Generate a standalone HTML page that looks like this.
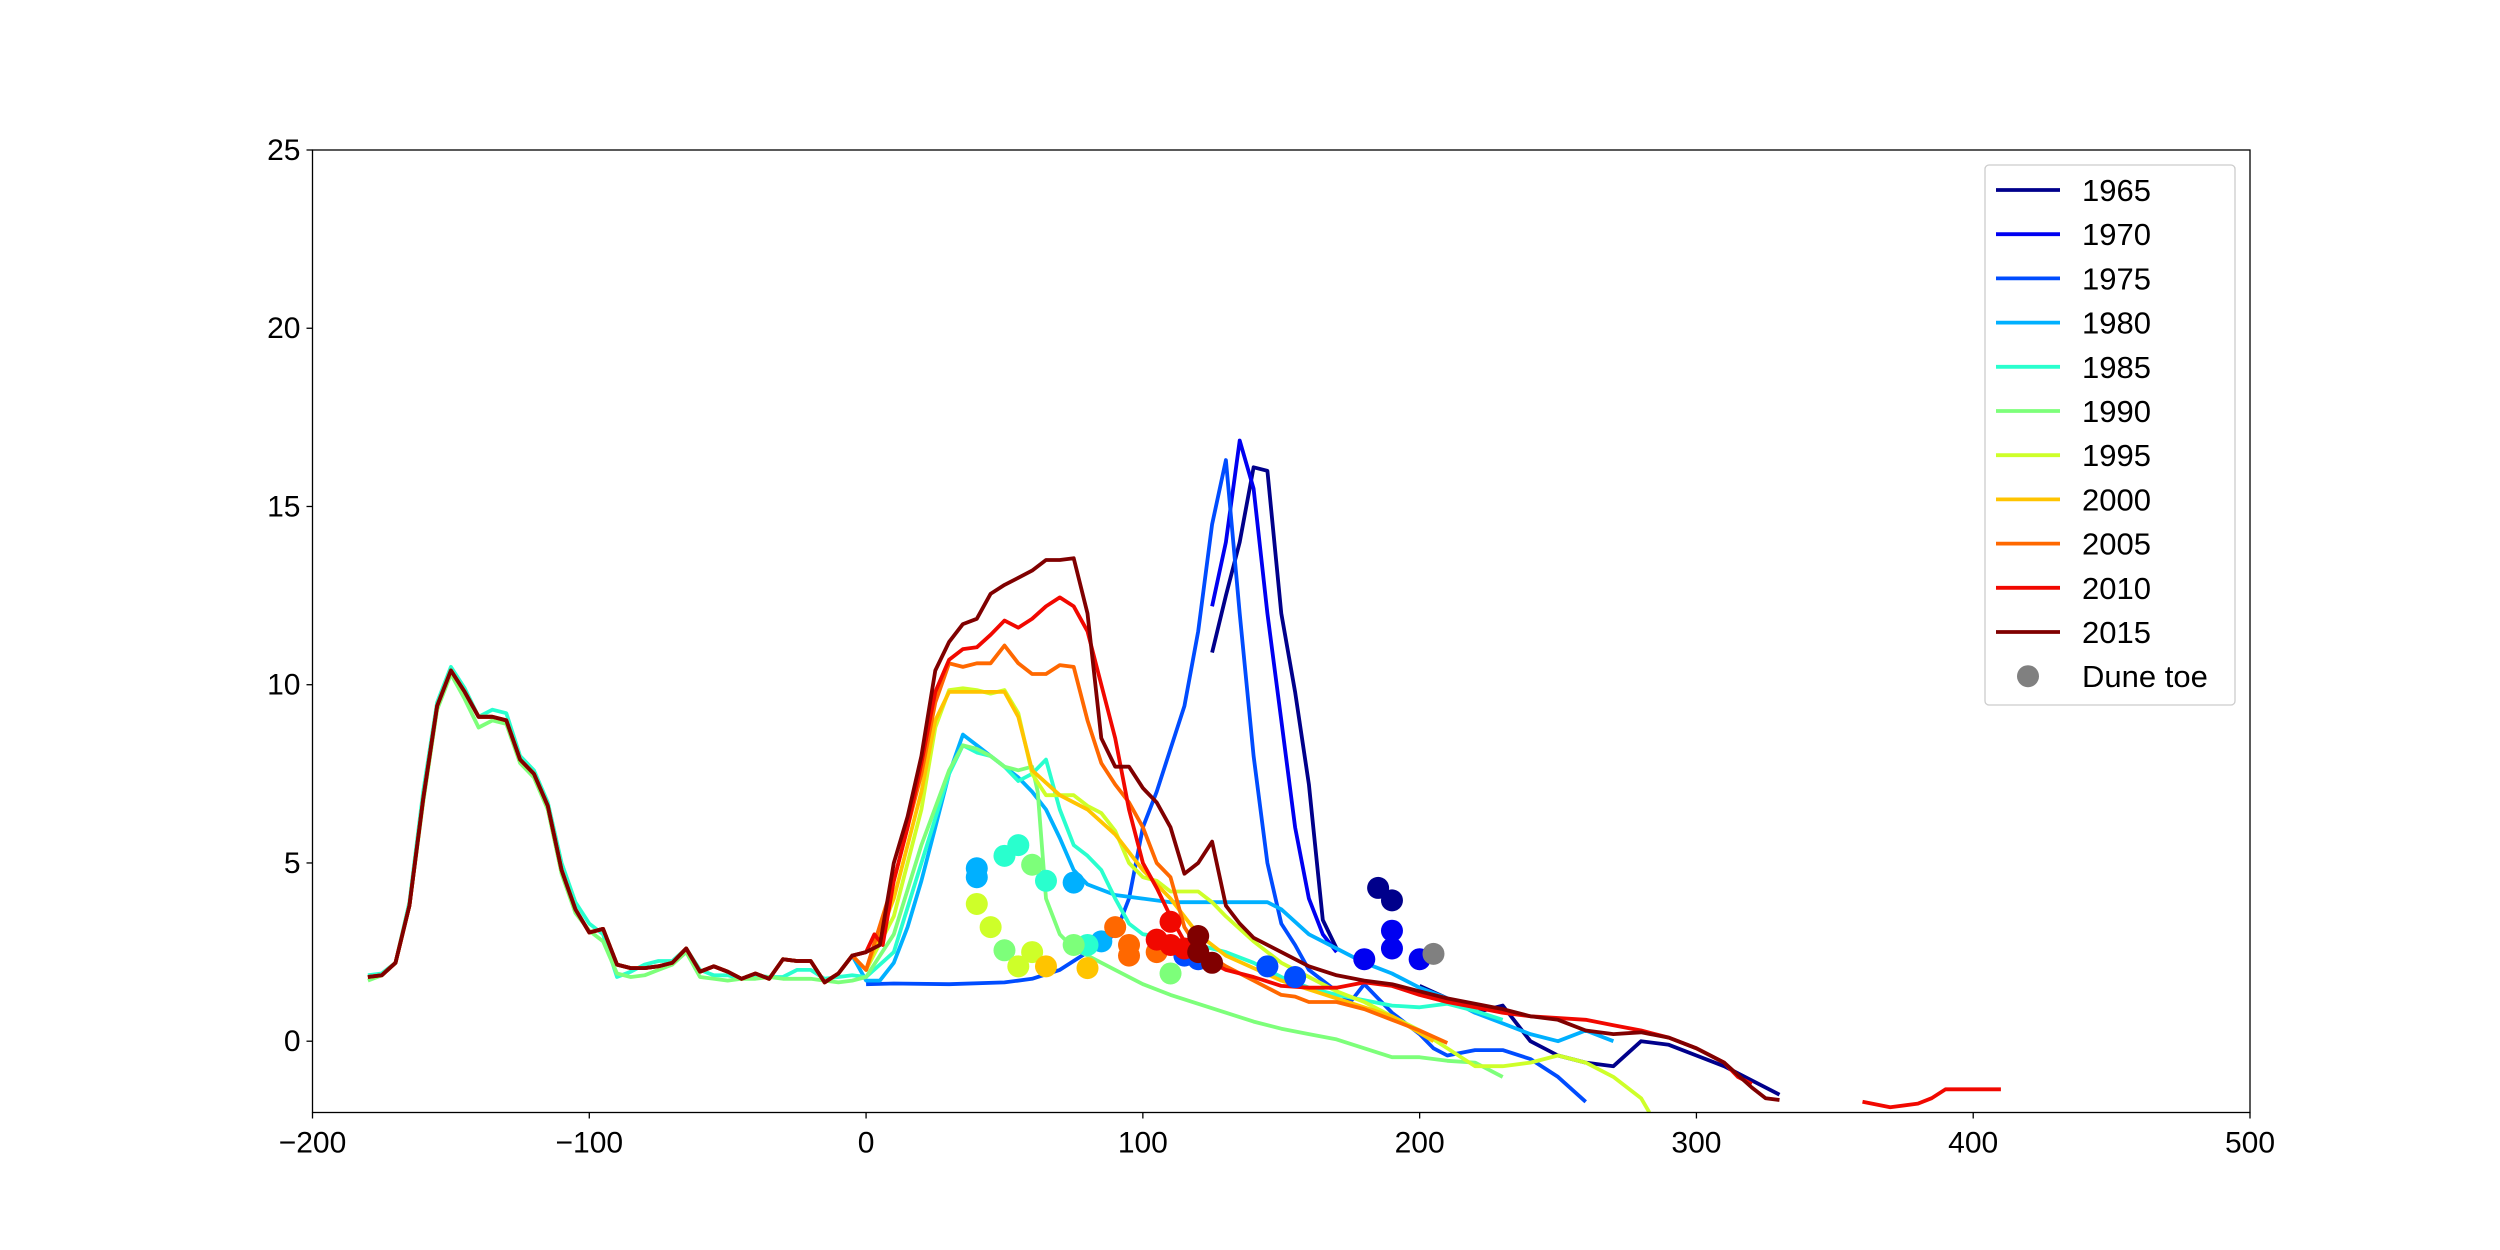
<!DOCTYPE html>
<html><head><meta charset="utf-8"><style>
html,body{margin:0;padding:0;background:#fff;}
svg{display:block;font-family:"Liberation Sans","DejaVu Sans",sans-serif;}
</style></head><body>
<svg id="chart" width="2500" height="1250" viewBox="0 0 2500 1250" xmlns="http://www.w3.org/2000/svg">
<rect width="2500" height="1250" fill="#fff"/>
<g id="plot"></g>
<g id="axes"></g>
<g id="legend"></g>
</svg>
<script>
const years = ["1965","1970","1975","1980","1985","1990","1995","2000","2005","2010","2015"];
const colors = ["#00008b","#0000f1","#004cff","#00b0ff","#29ffce","#7dff7a","#ceff29","#ffc400","#ff6800","#f10800","#800000"];
const xTicks = [-200,-100,0,100,200,300,400,500];
const yTicks = [0,5,10,15,20,25];
const baseX = [-180,-175,-170,-165,-160,-155,-150,-145,-140,-135,-130,-125,-120,-115,-110,-105,-100,-95,-90,-85,-80,-75,-70,-65,-60,-55,-50,-45,-40,-35,-30,-25,-20,-15,-10,-5];
const baseY = [1.8,1.85,2.2,3.8,6.8,9.4,10.4,9.8,9.1,9.1,9.0,7.9,7.5,6.6,4.8,3.7,3.05,3.15,2.15,2.05,2.05,2.1,2.2,2.6,1.95,2.1,1.95,1.75,1.9,1.75,2.3,2.25,2.25,1.65,1.9,2.4];
const baseY1985 = [1.85,1.9,2.2,3.9,7.0,9.5,10.5,9.9,9.1,9.3,9.2,8.0,7.6,6.7,5.0,3.9,3.3,3.0,1.8,1.95,2.15,2.25,2.25,2.6,2.0,1.85,1.85,1.75,1.85,1.8,1.8,2.0,2.0,1.75,1.8,1.85];
const baseY1990 = [1.7,1.85,2.2,3.8,6.7,9.3,10.3,9.6,8.8,9.0,8.9,7.8,7.4,6.5,4.7,3.6,3.1,2.8,1.9,1.8,1.85,2.0,2.15,2.5,1.8,1.75,1.7,1.75,1.75,1.8,1.75,1.75,1.75,1.7,1.65,1.7];
const s1965 = [[[125,10.9],[130,12.5],[135,14.0],[140,16.1],[145,16.0],[150,12.0],[155,9.8],[160,7.2],[165,3.4],[170,2.6]],[[200,1.55],[210,1.2],[220,0.8],[230,1.0],[240,0.0],[250,-0.4],[260,-0.6],[270,-0.7],[280,0.0],[290,-0.1],[300,-0.4],[310,-0.7],[320,-1.1],[330,-1.5]]];
const s1970 = [[[125,12.2],[130,14.0],[135,16.85],[140,15.5],[145,12.0],[150,9.0],[155,6.0],[160,4.0],[165,3.0],[170,2.5]]];
const s1975 = [[[0,1.6],[10,1.62],[30,1.6],[50,1.65],[60,1.75],[70,2.0],[80,2.5],[90,3.0],[95,4.0],[100,6.0],[105,7.0],[110,8.2],[115,9.4],[120,11.5],[125,14.5],[130,16.3],[135,12.0],[140,8.0],[145,5.0],[150,3.3],[155,2.7],[160,2.0],[170,1.4],[175,1.1],[180,1.6],[185,1.2],[190,0.8],[200,0.2],[205,-0.2],[210,-0.4],[220,-0.25],[230,-0.25],[240,-0.5],[250,-1.0],[260,-1.7]]];
const s1980 = [[[0,1.7],[5,1.7],[10,2.2],[15,3.2],[20,4.5],[25,6.0],[30,7.5],[35,8.6],[40,8.3],[45,8.0],[50,7.7],[55,7.4],[60,7.0],[65,6.5],[70,5.7],[75,4.8],[80,4.4],[90,4.1],[100,4.0],[110,3.9],[120,3.9],[130,3.9],[145,3.9],[150,3.7],[160,3.0],[170,2.6],[180,2.2],[190,1.9],[200,1.5],[210,1.2],[220,0.8],[230,0.5],[240,0.2],[250,0.0],[260,0.3],[270,0.0]]];
const s1985 = [[[0,1.8],[10,2.5],[20,5.0],[30,7.5],[35,8.3],[40,8.1],[45,8.0],[50,7.7],[55,7.3],[60,7.5],[65,7.9],[70,6.5],[75,5.5],[80,5.2],[85,4.8],[90,4.0],[95,3.3],[100,3.0],[110,2.9],[120,2.7],[130,2.5],[140,2.2],[150,1.8],[160,1.5],[170,1.3],[180,1.15],[190,1.0],[200,0.95],[210,1.05],[220,0.85],[230,0.6]]];
const s1990 = [[[0,1.8],[10,3.0],[20,5.5],[30,7.6],[35,8.3],[40,8.2],[45,8.0],[50,7.7],[55,7.6],[60,7.7],[62,7.0],[65,4.0],[70,3.0],[75,2.6],[80,2.4],[90,2.0],[100,1.6],[110,1.3],[120,1.05],[130,0.8],[140,0.55],[150,0.35],[160,0.2],[170,0.05],[180,-0.2],[190,-0.45],[200,-0.45],[210,-0.55],[220,-0.6],[230,-1.0]]];
const s1995 = [[[0,2.0],[10,3.5],[20,6.5],[25,8.8],[30,9.85],[35,9.9],[40,9.85],[45,9.75],[50,9.85],[55,9.2],[60,7.5],[65,6.9],[70,6.9],[75,6.9],[80,6.6],[85,6.4],[90,5.9],[95,5.0],[100,4.6],[105,4.5],[110,4.2],[120,4.2],[125,3.9],[130,3.5],[140,2.8],[150,2.2],[160,1.8],[170,1.4],[180,1.1],[190,0.7],[200,0.3],[210,-0.2],[220,-0.7],[230,-0.7],[240,-0.6],[250,-0.4],[260,-0.6],[270,-1.0],[280,-1.6],[283,-2.0]]];
const s2000 = [[[0,2.0],[10,4.0],[20,7.0],[25,9.0],[30,9.8],[40,9.8],[50,9.8],[55,9.1],[60,7.6],[70,6.9],[80,6.5],[90,5.8],[100,4.8],[110,4.0],[120,3.0],[130,2.4],[150,1.7],[170,1.2],[190,0.7],[205,0.0]]];
const s2005 = [[[0,2.0],[10,4.5],[20,7.5],[25,9.5],[30,10.6],[35,10.5],[40,10.6],[45,10.6],[50,11.1],[55,10.6],[60,10.3],[65,10.3],[70,10.55],[75,10.5],[80,9.0],[85,7.8],[90,7.2],[95,6.7],[100,6.0],[105,5.0],[110,4.6],[115,3.2],[120,2.6],[130,2.1],[140,1.7],[150,1.3],[155,1.25],[160,1.1],[170,1.1],[180,0.9],[190,0.6],[200,0.3],[210,-0.05]]];
const s2010 = [[[0,2.5],[3,3.0],[6,2.7],[10,4.5],[15,6.0],[20,7.8],[25,9.8],[30,10.7],[35,11.0],[40,11.05],[45,11.4],[50,11.8],[55,11.6],[60,11.85],[65,12.2],[70,12.45],[75,12.2],[80,11.5],[85,10.0],[90,8.5],[95,6.5],[100,5.0],[105,4.3],[110,3.5],[115,2.8],[120,2.4],[130,2.0],[140,1.8],[150,1.55],[160,1.5],[170,1.5],[180,1.65],[190,1.55],[200,1.3],[210,1.1],[220,0.95],[230,0.8],[240,0.7],[250,0.65],[260,0.6],[270,0.45],[280,0.3],[290,0.1],[300,-0.2],[310,-0.6],[315,-1.0],[320,-1.2]],[[360,-1.7],[370,-1.85],[380,-1.75],[385,-1.6],[390,-1.35],[400,-1.35],[410,-1.35]]];
const s2015 = [[[0,2.5],[5,2.7],[10,5.0],[15,6.3],[20,8.0],[25,10.4],[30,11.2],[35,11.7],[40,11.85],[45,12.55],[50,12.8],[55,13.0],[60,13.2],[65,13.5],[70,13.5],[75,13.55],[80,12.0],[85,8.5],[90,7.7],[95,7.7],[100,7.1],[105,6.7],[110,6.0],[115,4.7],[120,5.0],[125,5.6],[130,3.8],[135,3.3],[140,2.9],[150,2.5],[160,2.1],[170,1.85],[180,1.7],[190,1.6],[200,1.4],[210,1.2],[220,1.05],[230,0.9],[240,0.7],[250,0.6],[260,0.3],[270,0.2],[280,0.25],[290,0.1],[300,-0.2],[310,-0.6],[320,-1.3],[325,-1.6],[330,-1.65]]];
const seriesList = [s1965,s1970,s1975,s1980,s1985,s1990,s1995,s2000,s2005,s2010,s2015];
const baseFor = [null,null,null,baseY,baseY1985,baseY1990,baseY,baseY,baseY,baseY,baseY];
const duneX = [185,190,190,190,200,180,145,155,120,115,40,40,75,85,50,55,65,80,60,75,110,50,40,45,55,60,65,80,90,95,95,105,105,110,110,115,120,125,120,205];
const duneY = [4.3,3.95,3.1,2.6,2.3,2.3,2.1,1.8,2.3,2.4,4.6,4.85,4.45,2.8,5.2,5.5,4.5,2.7,4.95,2.7,1.9,2.55,3.85,3.2,2.1,2.5,2.1,2.05,3.2,2.7,2.4,2.5,2.85,3.35,2.7,2.6,2.95,2.2,2.5,2.45];
const duneYear = [0,0,1,1,1,1,2,2,2,2,3,3,3,3,4,4,4,4,5,5,5,5,6,6,6,6,7,7,8,8,8,8,9,9,9,9,10,10,10,-1];

const L=312.5,R=2250,T=150,B=1112.5,XMIN=-200,XMAX=500,YMIN=-2,YMAX=25;
const sx=v=>L+(v-XMIN)/(XMAX-XMIN)*(R-L);
const sy=v=>B-(v-YMIN)/(YMAX-YMIN)*(B-T);
const NS="http://www.w3.org/2000/svg";
function mk(tag,attrs,parent){const e=document.createElementNS(NS,tag);for(const k in attrs)e.setAttribute(k,attrs[k]);parent.appendChild(e);return e;}
const plot=document.getElementById('plot'),axes=document.getElementById('axes'),leg=document.getElementById('legend');
mk('clipPath',{id:'clip'},plot).appendChild(document.createElementNS(NS,'rect'));
const cr=plot.querySelector('clipPath rect');cr.setAttribute('x',L);cr.setAttribute('y',T);cr.setAttribute('width',R-L);cr.setAttribute('height',B-T);
const lines=mk('g',{'clip-path':'url(#clip)'},plot);
seriesList.forEach((segs,i)=>{
  segs.forEach((seg,j)=>{
    let pts=seg.map(p=>[p[0],p[1]]);
    if(j===0&&baseFor[i]) pts=baseX.map((x,k)=>[x,baseFor[i][k]]).concat(pts);
    const p=mk('polyline',{points:pts.map(q=>sx(q[0]).toFixed(1)+','+sy(q[1]).toFixed(1)).join(' '),fill:'none',stroke:colors[i],'stroke-width':3.8,'stroke-linejoin':'round'},lines);
    
    
  });
});
duneX.forEach((x,k)=>{
  const c=mk('circle',{cx:sx(x),cy:sy(duneY[k]),r:11,fill:duneYear[k]<0?'#808080':colors[duneYear[k]]},lines);
  
  
});
const frame=mk('rect',{x:L,y:T,width:R-L,height:B-T,fill:'none',stroke:'#000','stroke-width':1.3},axes);


xTicks.forEach(v=>{
  mk('line',{x1:sx(v),x2:sx(v),y1:B,y2:B+6,stroke:'#000','stroke-width':1.3},axes);
  const t=mk('text',{x:sx(v),y:B+40,'text-anchor':'middle','font-size':30},axes);
  t.textContent=(v<0?'\u2212':'')+Math.abs(v);
  
  
});
yTicks.forEach(v=>{
  mk('line',{x1:L-6,x2:L,y1:sy(v),y2:sy(v),stroke:'#000','stroke-width':1.3},axes);
  const t=mk('text',{x:L-12,y:sy(v)+10,'text-anchor':'end','font-size':30},axes);
  t.textContent=v;
  
  
});
const lb=mk('rect',{x:1985,y:165,width:250,height:540,rx:4,fill:'#fff','fill-opacity':0.85,stroke:'#ccc','stroke-width':1.3},leg);


years.concat(['Dune toe']).forEach((y,i)=>{
  const cy=190+i*44.2;
  const g=mk('g',{},leg);
  
  
  if(i<years.length) mk('line',{x1:1996,x2:2060,y1:cy,y2:cy,stroke:colors[i],'stroke-width':3.8},g);
  else mk('circle',{cx:2028,cy:cy,r:11,fill:'#808080'},g);
  const t=mk('text',{x:2082,y:cy+11,'font-size':31},g);
  t.textContent=y;
});
</script>
</body></html>
